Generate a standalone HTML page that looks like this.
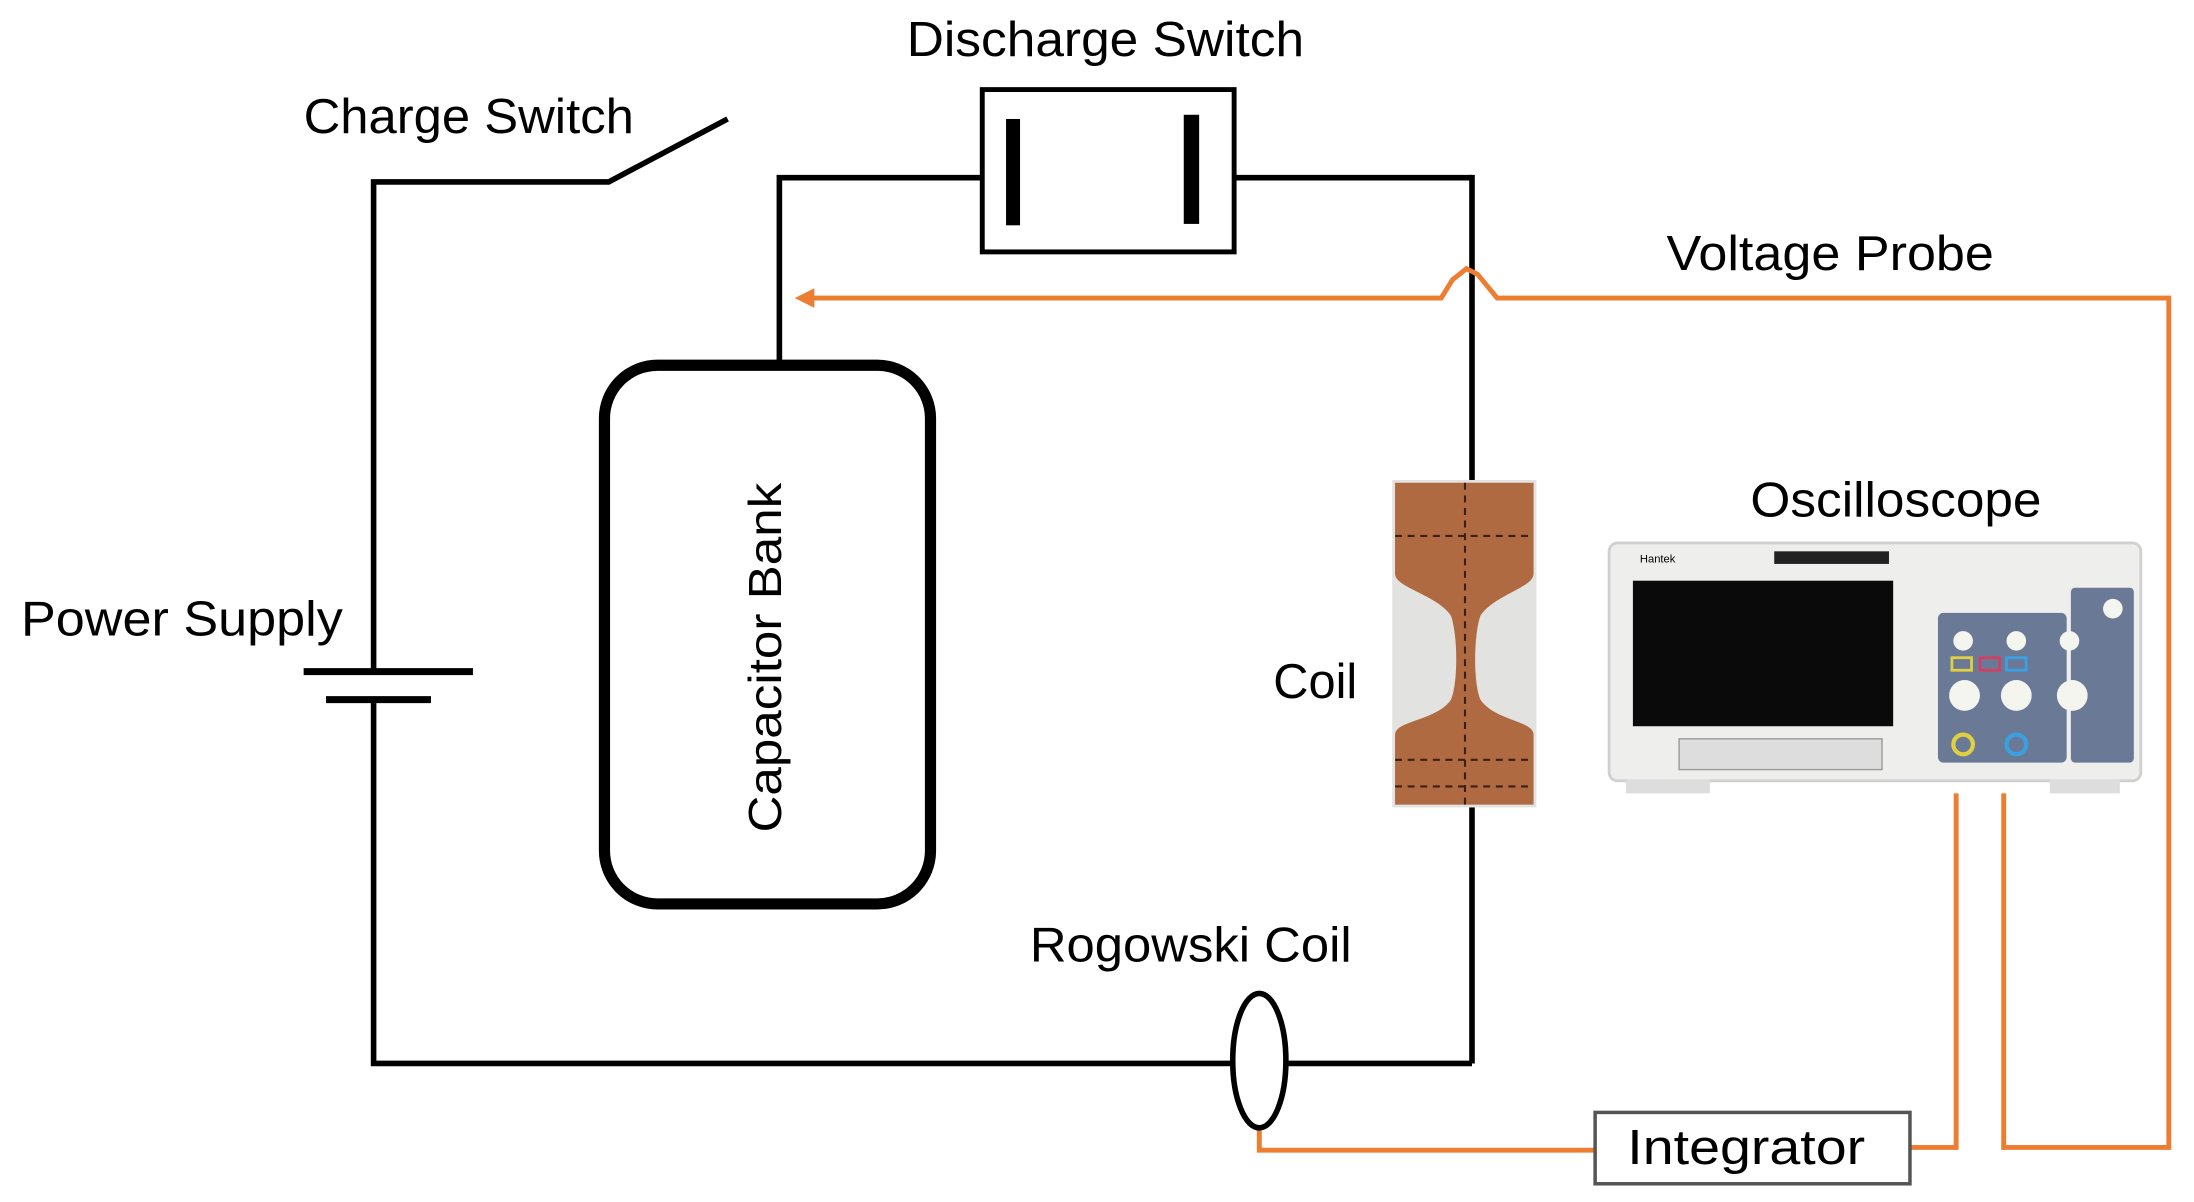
<!DOCTYPE html>
<html><head><meta charset="utf-8"><style>
html,body{margin:0;padding:0;background:#fff;}
svg{display:block;}
text{font-family:"Liberation Sans",sans-serif;fill:#000;}
</style></head><body>
<svg width="2194" height="1202" viewBox="0 0 1568 859" xmlns="http://www.w3.org/2000/svg">
<rect width="1568" height="859" fill="#fff"/>
<g fill="none" stroke="#000" stroke-width="4" stroke-linejoin="miter">
  <!-- left loop with charge switch -->
  <polyline points="267,480 267,130 435,130 520,85"/>
  <polyline points="267,500 267,760 880,760"/>
  <line x1="920" y1="760" x2="1052" y2="760"/>
  <line x1="1052" y1="760" x2="1052" y2="577"/>
  <line x1="1052" y1="343" x2="1052" y2="125"/>
  <polyline points="1052,127 882,127"/>
  <polyline points="557,258 557,127 701,127"/>
</g>
<!-- battery -->
<line x1="217" y1="480" x2="338" y2="480" stroke="#000" stroke-width="5"/>
<line x1="233" y1="500" x2="308" y2="500" stroke="#000" stroke-width="5"/>
<!-- discharge switch -->
<rect x="702" y="64" width="180" height="116" fill="#fff" stroke="#000" stroke-width="3.5"/>
<rect x="719" y="85" width="10" height="76" fill="#000"/>
<rect x="846" y="82" width="11" height="78" fill="#000"/>
<!-- capacitor bank -->
<rect x="432" y="261" width="233" height="385" rx="38" ry="38" fill="#fff" stroke="#000" stroke-width="8"/>
<text transform="translate(558,470) rotate(-90)" text-anchor="middle" font-size="33" textLength="250" lengthAdjust="spacingAndGlyphs">Capacitor Bank</text>
<!-- orange probe wires -->
<g fill="none" stroke="#ED7D31" stroke-width="3.5" stroke-linejoin="miter">
  <polyline points="578,213 1030,213 1038,200 1048,192 1056,196 1070,213 1550,213 1550,820 1432,820 1432,567"/>
  <polyline points="900,805 900,822 1140,822"/>
  <polyline points="1365,820 1398,820 1398,567"/>
</g>
<polygon points="568,213 582,206 582,220" fill="#ED7D31"/>
<!-- Rogowski coil -->
<ellipse cx="900" cy="758" rx="19" ry="48" fill="none" stroke="#000" stroke-width="4"/>
<!-- integrator -->
<rect x="1140" y="795" width="225" height="51" fill="#fff" stroke="#555" stroke-width="2.5"/>
<text x="1248" y="832" text-anchor="middle" font-size="35" textLength="170" lengthAdjust="spacingAndGlyphs">Integrator</text>
<!-- coil photo -->
<rect x="995" y="343" width="103" height="234" fill="#e2e2e0"/>
<path d="M997,345 H1096 V410 C1096,420 1068,425 1058,440 C1053,455 1053,488 1058,500 C1068,515 1096,515 1096,525 V575 H997 V525 C997,515 1027,515 1037,500 C1042,488 1042,455 1037,440 C1027,425 997,420 997,410 Z" fill="#b06a42"/>
<g stroke="#3a2010" stroke-width="1.5" stroke-dasharray="5,4" fill="none">
  <line x1="1047" y1="345" x2="1047" y2="575"/>
  <line x1="997" y1="383" x2="1096" y2="383"/>
  <line x1="997" y1="543" x2="1096" y2="543"/>
  <line x1="997" y1="562" x2="1096" y2="562"/>
</g>
<!-- oscilloscope -->
<rect x="1150" y="388" width="380" height="170" rx="6" fill="#eeeeec" stroke="#d0d0d0" stroke-width="2"/>
<rect x="1162" y="557" width="60" height="10" fill="#ddd"/>
<rect x="1465" y="557" width="50" height="10" fill="#ddd"/>
<rect x="1167" y="415" width="186" height="104" fill="#0a0a0a"/>
<rect x="1268" y="394" width="82" height="9" fill="#222"/>
<text x="1172" y="402" font-size="8" fill="#335">Hantek</text>
<rect x="1200" y="528" width="145" height="22" fill="#ddd" stroke="#999"/>
<rect x="1385" y="438" width="92" height="107" rx="4" fill="#6a7a96"/>
<rect x="1480" y="420" width="45" height="125" rx="3" fill="#6a7a96"/>
<g fill="#f5f5f0">
  <circle cx="1403" cy="458" r="7"/><circle cx="1441" cy="458" r="7"/><circle cx="1479" cy="458" r="7"/>
  <circle cx="1404" cy="497" r="11"/><circle cx="1441" cy="497" r="11"/><circle cx="1481" cy="497" r="11"/>
  <circle cx="1510" cy="435" r="7"/>
</g>
<circle cx="1403" cy="532" r="7" fill="none" stroke="#e0d040" stroke-width="3"/>
<circle cx="1441" cy="532" r="7" fill="none" stroke="#3aa0e0" stroke-width="3"/>
<rect x="1395" y="470" width="14" height="9" fill="none" stroke="#e0d040" stroke-width="2"/>
<rect x="1415" y="470" width="14" height="9" fill="none" stroke="#d04060" stroke-width="2"/>
<rect x="1434" y="470" width="14" height="9" fill="none" stroke="#3aa0e0" stroke-width="2"/>
<!-- labels -->
<text x="790" y="40" text-anchor="middle" font-size="35" textLength="284" lengthAdjust="spacingAndGlyphs">Discharge Switch</text>
<text x="335" y="95" text-anchor="middle" font-size="35" textLength="236" lengthAdjust="spacingAndGlyphs">Charge Switch</text>
<text x="1308" y="193" text-anchor="middle" font-size="35" textLength="234" lengthAdjust="spacingAndGlyphs">Voltage Probe</text>
<text x="1355" y="369" text-anchor="middle" font-size="35" textLength="208" lengthAdjust="spacingAndGlyphs">Oscilloscope</text>
<text x="130" y="454" text-anchor="middle" font-size="35" textLength="230" lengthAdjust="spacingAndGlyphs">Power Supply</text>
<text x="940" y="499" text-anchor="middle" font-size="35" textLength="60" lengthAdjust="spacingAndGlyphs">Coil</text>
<text x="851" y="687" text-anchor="middle" font-size="35" textLength="230" lengthAdjust="spacingAndGlyphs">Rogowski Coil</text>
</svg>
</body></html>
